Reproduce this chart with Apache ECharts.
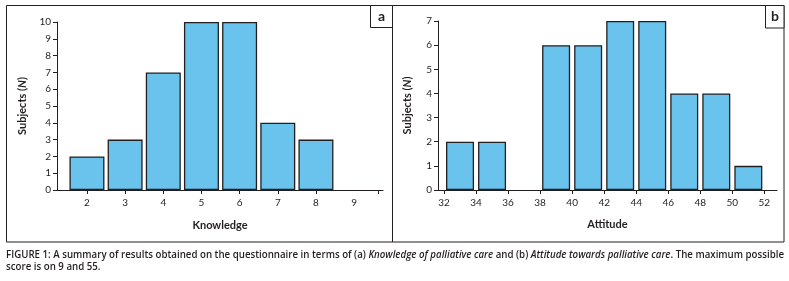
<!DOCTYPE html>
<html>
<head>
<meta charset="utf-8">
<script src="https://cdn.jsdelivr.net/npm/echarts@6/dist/echarts.min.js"></script>
<style>
  html, body { margin: 0; padding: 0; background: #fff; }
  #chart { width: 789px; height: 281px; }
</style>
</head>
<body>
<div id="chart"></div>
<script>
// panel a: knowledge scores
const knowledgeScores = [2, 3, 4, 5, 6, 7, 8];
const knowledgeCounts = [2, 3, 7, 10, 10, 4, 3];
const knowledgeLabels = [2, 3, 4, 5, 6, 7, 8, 9];
const knowledgeTicks = [2, 3, 4, 5, 6, 7, 8, 9.63];

// panel b: attitude scores (bins of width 2, drawn at bin centre)
const attitudeBins = [33, 35, 37, 39, 41, 43, 45, 47, 49, 51];
const attitudeCounts = [2, 2, 0, 6, 6, 7, 7, 4, 4, 1];
const attitudeLabels = [32, 34, 36, 38, 40, 42, 44, 46, 48, 50, 52];

const ink = '#231f20';
const barFill = '#69c3ed';
const font = 'Lato, "Open Sans", sans-serif';

const captionLine1 = [
  ['FIGURE 1: A summary of results obtained on the questionnaire in terms of (a) ', 'n'],
  ['Knowledge of palliative care', 'i'],
  [' and (b) ', 'n'],
  ['Attitude towards palliative care', 'i'],
  ['. The maximum possible', 'n'],
];
const captionLine2 = 'score is on 9 and 55.';

let myChart = echarts.init(document.getElementById('chart'), null, { renderer: 'canvas' });

const capFont = '"Open Sans", sans-serif';
const capSize = 10;
const capWeight = 600;

// squeeze caption to the width of the figure
const measure = document.createElement('canvas').getContext('2d');
let capWidth = 0;
captionLine1.forEach(([txt, st]) => {
  measure.font = (st === 'i' ? 'italic ' : '') + capWeight + ' ' + capSize + 'px ' + capFont;
  capWidth += measure.measureText(txt).width;
});
const capScale = 778 / capWidth;

// empty bins get no bar at all
const toBars = (xs, ys) => xs.map((s, i) => [s, ys[i]]).filter(d => d[1] > 0);

const yAxisBase = {
  type: 'value',
  min: 0,
  interval: 1,
  nameLocation: 'middle',
  nameRotate: 90,
  nameTextStyle: {
    fontFamily: font, fontWeight: 'bold', fontSize: 11, color: ink,
    rich: { it: { fontFamily: font, fontWeight: 'bold', fontStyle: 'italic', fontSize: 11, color: ink } },
  },
  axisLine: { show: true, lineStyle: { color: ink, width: 1 } },
  axisTick: { show: true, inside: false, length: 4, lineStyle: { color: ink } },
  axisLabel: { fontFamily: font, fontSize: 10, color: ink, margin: 6 },
  splitLine: { show: false },
};

const xAxisBase = {
  type: 'value',
  nameLocation: 'middle',
  nameTextStyle: { fontFamily: font, fontWeight: 'bold', fontSize: 11, color: ink },
  axisLine: { show: true, onZero: false, lineStyle: { color: ink, width: 1 } },
  axisTick: { show: true, inside: false, length: 4, lineStyle: { color: ink } },
  axisLabel: { fontFamily: font, fontSize: 10, color: ink, margin: 8 },
  splitLine: { show: false },
};

const option = {
  animation: false,
  backgroundColor: '#fff',
  grid: [
    { left: 57, top: 22, width: 326, height: 168 },
    { left: 438, top: 21, width: 339, height: 169 },
  ],
  xAxis: [
    Object.assign({}, xAxisBase, {
      gridIndex: 0, min: 1.215, max: 9.757, name: 'Knowledge', nameGap: 30,
      axisTick: Object.assign({}, xAxisBase.axisTick, { customValues: knowledgeTicks }),
      axisLabel: Object.assign({}, xAxisBase.axisLabel, { customValues: knowledgeLabels }),
    }),
    Object.assign({}, xAxisBase, {
      gridIndex: 1, min: 31.625, max: 52.79, name: 'Attitude', nameGap: 29,
      axisTick: Object.assign({}, xAxisBase.axisTick, { customValues: attitudeLabels }),
      axisLabel: Object.assign({}, xAxisBase.axisLabel, { customValues: attitudeLabels }),
    }),
  ],
  yAxis: [
    Object.assign({}, yAxisBase, { gridIndex: 0, max: 10, name: 'Subjects ({it|N})', nameGap: 29 }),
    Object.assign({}, yAxisBase, { gridIndex: 1, max: 7, name: 'Subjects ({it|N})', nameGap: 25 }),
  ],
  series: [
    {
      type: 'bar',
      xAxisIndex: 0, yAxisIndex: 0,
      barWidth: 35,
      data: toBars(knowledgeScores, knowledgeCounts),
      itemStyle: { color: barFill, borderColor: ink, borderWidth: 1.3 },
    },
    {
      type: 'bar',
      xAxisIndex: 1, yAxisIndex: 1,
      barWidth: 28,
      data: toBars(attitudeBins, attitudeCounts),
      itemStyle: { color: barFill, borderColor: ink, borderWidth: 1.3 },
    },
  ],
  graphic: {
    elements: [
      // panel frames
      { type: 'rect', shape: { x: 6.5, y: 5.5, width: 386, height: 236.5 }, style: { fill: null, stroke: ink, lineWidth: 1 } },
      { type: 'rect', shape: { x: 392.5, y: 5.5, width: 391.5, height: 236.5 }, style: { fill: null, stroke: ink, lineWidth: 1 } },
      // panel letters
      { type: 'rect', shape: { x: 370.5, y: 5.5, width: 22, height: 22 }, style: { fill: '#fff', stroke: ink, lineWidth: 1 } },
      { type: 'text', x: 381.5, y: 16.5, style: { text: 'a', font: 'bold 14px ' + font, fill: ink, align: 'center', verticalAlign: 'middle' } },
      { type: 'rect', shape: { x: 765.5, y: 5.5, width: 18.5, height: 22.5 }, style: { fill: '#fff', stroke: ink, lineWidth: 1 } },
      { type: 'text', x: 775, y: 16.5, style: { text: 'b', font: 'bold 14px ' + font, fill: ink, align: 'center', verticalAlign: 'middle' } },
      // caption
      {
        type: 'text', x: 6, y: 255, scaleX: capScale, originX: 0,
        style: {
          text: captionLine1.map(([t, st]) => '{' + st + '|' + t + '}').join(''),
          verticalAlign: 'middle',
          rich: {
            n: { fontFamily: capFont, fontWeight: capWeight, fontSize: capSize, fill: ink, color: ink },
            i: { fontFamily: capFont, fontWeight: capWeight, fontSize: capSize, fontStyle: 'italic', fill: ink, color: ink },
          },
        },
      },
      {
        type: 'text', x: 6, y: 267, scaleX: capScale, originX: 0,
        style: { text: captionLine2, font: capWeight + ' ' + capSize + 'px ' + capFont, fill: ink, verticalAlign: 'middle' },
      },
    ],
  },
};

myChart.setOption(option);
</script>
</body>
</html>
